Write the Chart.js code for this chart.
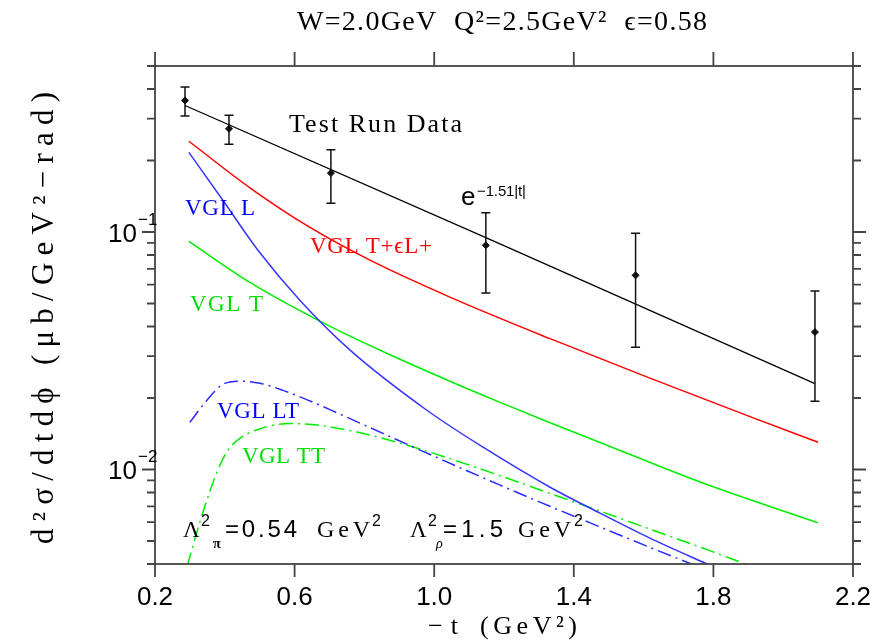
<!DOCTYPE html>
<html><head><meta charset="utf-8">
<script src="https://cdn.jsdelivr.net/npm/chart.js@4"></script>
<style>html,body{margin:0;padding:0;background:#fff}canvas{display:block}</style>
</head><body>
<canvas id="c" width="883" height="640"></canvas>
<script>
// ---- data ----
const dataT     = [0.286, 0.412, 0.704, 1.148, 1.577, 2.091];
const dataSigma = [0.358, 0.272, 0.177, 0.0879, 0.0657, 0.0379];
const dataErr   = [0.050, 0.038, 0.045, 0.0325, 0.033, 0.0185];

const fitT     = [0.286, 1.148, 2.091];
const fitSigma = [0.341, 0.0947, 0.0230];

const sumT     = [0.297, 0.472, 0.644, 0.816, 1.045, 1.332, 1.618, 1.905, 2.100];
const sumSigma = [0.2410, 0.1535, 0.1045, 0.0761, 0.0532, 0.03555, 0.02426, 0.01670, 0.01302];

const lT     = [0.297, 0.398, 0.495, 0.615, 0.759, 0.979, 1.140, 1.332, 1.475, 1.618, 1.782, 1.876];
const lSigma = [0.2165, 0.1337, 0.0838, 0.0516, 0.0318, 0.01776, 0.01241, 0.00842, 0.00655, 0.00514, 0.00400, 0.00347];

const tT     = [0.297, 0.472, 0.658, 0.853, 1.045, 1.189, 1.332, 1.475, 1.762, 2.100];
const tSigma = [0.0914, 0.0613, 0.0432, 0.03138, 0.02354, 0.01917, 0.01573, 0.01300, 0.00886, 0.00596];

const ltT     = [0.300, 0.349, 0.395, 0.444, 0.501, 0.567, 0.644, 0.721, 0.853, 0.951, 1.094, 1.189, 1.303, 1.475, 1.618, 1.739, 1.819];
const ltSigma = [0.01581, 0.01959, 0.02286, 0.02355, 0.02306, 0.02154, 0.01943, 0.01734, 0.01419, 0.01223, 0.00988, 0.00859, 0.00729, 0.00573, 0.00470, 0.00399, 0.00358];

const ttT     = [0.292, 0.338, 0.378, 0.406, 0.444, 0.501, 0.587, 0.681, 0.779, 0.911, 1.045, 1.189, 1.332, 1.475, 1.618, 1.762, 1.882, 1.962];
const ttSigma = [0.00392, 0.00665, 0.00979, 0.01189, 0.01355, 0.01485, 0.01561, 0.01528, 0.01437, 0.01280, 0.01111, 0.00941, 0.00793, 0.00668, 0.00561, 0.00471, 0.00405, 0.00366];

const xTicks      = [0.2, 0.6, 1.0, 1.4, 1.8, 2.2];
const xTickLabels = ['0.2', '0.6', '1.0', '1.4', '1.8', '2.2'];
const yMajorTicks = [0.01, 0.1];
const yMajorExp   = ['\u22122', '\u22121'];
const yMinorTicks = [0.004, 0.005, 0.006, 0.007, 0.008, 0.009,
                     0.02, 0.03, 0.04, 0.05, 0.06, 0.07, 0.08, 0.09,
                     0.2, 0.3, 0.4, 0.5];

const toXY = (xs, ys) => xs.map((v, i) => ({x: v, y: ys[i]}));

// ---- text helpers ----
const SERIF = '"Liberation Serif", "DejaVu Serif", serif';
const SANS  = '"Liberation Sans", Arial, sans-serif';
function fitText(ctx, str, x, y, w, font, color, align) {
  ctx.font = font; ctx.fillStyle = color; ctx.textAlign = 'left';
  ctx.letterSpacing = '0px';
  const m = ctx.measureText(str).width;
  const n = [...str].length;
  let sp = (w && n > 1) ? (w - m) / (n - 1) : 0;
  if (!w) w = m;
  ctx.letterSpacing = sp + 'px';
  let left = x;
  if (align === 'center') left = x - w / 2;
  else if (align === 'right') left = x - w;
  ctx.fillText(str, left, y);
  ctx.letterSpacing = '0px';
}

const frameAndText = {
  id: 'frameAndText',
  afterDatasetsDraw(chart) {
    const {ctx, scales: {x, y}} = chart;
    ctx.save();
    ctx.strokeStyle = '#111'; ctx.lineWidth = 1.5;
    ctx.beginPath();
    dataT.forEach((t, i) => {
      const px = x.getPixelForValue(t);
      const yt = y.getPixelForValue(dataSigma[i] + dataErr[i]);
      const yb = y.getPixelForValue(dataSigma[i] - dataErr[i]);
      ctx.moveTo(px, yt); ctx.lineTo(px, yb);
      ctx.moveTo(px - 4.5, yt); ctx.lineTo(px + 4.5, yt);
      ctx.moveTo(px - 4.5, yb); ctx.lineTo(px + 4.5, yb);
    });
    ctx.stroke();
    ctx.restore();
  },
  afterDraw(chart) {
    const {ctx, chartArea: a, scales: {x, y}} = chart;
    ctx.save();
    // frame and ticks
    ctx.strokeStyle = '#444'; ctx.lineWidth = 1.8;
    ctx.strokeRect(a.left, a.top, a.right - a.left, a.bottom - a.top);
    ctx.beginPath();
    xTicks.forEach(v => {
      const p = x.getPixelForValue(v);
      ctx.moveTo(p, a.bottom); ctx.lineTo(p, a.bottom + 13);
      ctx.moveTo(p, a.top); ctx.lineTo(p, a.top - 14);
    });
    yMajorTicks.forEach(v => {
      const p = y.getPixelForValue(v);
      ctx.moveTo(a.left, p); ctx.lineTo(a.left - 13, p);
      ctx.moveTo(a.right, p); ctx.lineTo(a.right + 13, p);
    });
    yMinorTicks.forEach(v => {
      const p = y.getPixelForValue(v);
      ctx.moveTo(a.left, p); ctx.lineTo(a.left - 8, p);
      ctx.moveTo(a.right, p); ctx.lineTo(a.right + 8, p);
    });
    ctx.stroke();

    // tick labels
    ctx.fillStyle = '#000';
    ctx.font = '26px ' + SANS; ctx.textAlign = 'center'; ctx.textBaseline = 'alphabetic';
    xTicks.forEach((v, i) => ctx.fillText(xTickLabels[i], x.getPixelForValue(v), 605));
    yMajorTicks.forEach((v, i) => {
      const p = y.getPixelForValue(v);
      ctx.font = '26px ' + SANS; ctx.textAlign = 'right';
      ctx.fillText('10', 137, p + 10);
      ctx.font = '17px ' + SANS; ctx.textAlign = 'left';
      ctx.fillText(yMajorExp[i], 138, p - 7);
    });

    // titles
    fitText(ctx, 'W=2.0GeV  Q\u00b2=2.5GeV\u00b2  \u03f5=0.58', 502, 30, 410, '28px ' + SERIF, '#000', 'center');
    fitText(ctx, '\u2212t', 428, 634, 30, '26px ' + SERIF, '#000');
    fitText(ctx, '(GeV\u00b2)', 480, 634, 97, '26px ' + SERIF, '#000');
    ctx.save();
    ctx.translate(53, 318); ctx.rotate(-Math.PI / 2);
    fitText(ctx, 'd\u00b2\u03c3/dtd\u03d5 (\u03bcb/GeV\u00b2\u2212rad)', 0, 0, 452, '31px ' + SERIF, '#000', 'center');
    ctx.restore();

    // annotations
    fitText(ctx, 'Test Run Data', 289, 132, 173, '26px ' + SERIF, '#000');
    fitText(ctx, 'e', 461, 205, 0, '26px ' + SANS, '#000');
    fitText(ctx, '\u22121.51|t|', 477, 196, 49, '15px ' + SANS, '#000');
    fitText(ctx, 'VGL L', 185, 215, 70, '23px ' + SERIF, '#0000ff');
    fitText(ctx, 'VGL T+\u03f5L+', 310, 253, 122, '23px ' + SERIF, '#ff0000');
    fitText(ctx, 'VGL T', 190, 311, 73, '23px ' + SERIF, '#00dd00');
    fitText(ctx, 'VGL LT', 217, 418, 82, '23px ' + SERIF, '#0000ff');
    fitText(ctx, 'VGL TT', 242, 463, 83, '23px ' + SERIF, '#00dd00');

    // Lambda labels
    fitText(ctx, '\u039b', 183, 537, 0, '23px ' + SERIF, '#000');
    fitText(ctx, '2', 201, 526, 0, '16px ' + SANS, '#000');
    fitText(ctx, '\u03c0', 213, 548, 0, 'bold 14px ' + SERIF, '#000');
    fitText(ctx, '=0.54', 225, 537, 72, '24px ' + SANS, '#000');
    fitText(ctx, 'GeV', 317, 537, 53, '24px ' + SERIF, '#000');
    fitText(ctx, '2', 372, 526, 0, '16px ' + SANS, '#000');
    fitText(ctx, '\u039b', 410, 537, 0, '23px ' + SERIF, '#000');
    fitText(ctx, '2', 428, 526, 0, '16px ' + SANS, '#000');
    fitText(ctx, '\u03c1', 436, 548, 0, 'italic 14px ' + SERIF, '#000');
    fitText(ctx, '=1.5', 443, 537, 60, '24px ' + SANS, '#000');
    fitText(ctx, 'GeV', 518, 537, 53, '24px ' + SERIF, '#000');
    fitText(ctx, '2', 574, 526, 0, '16px ' + SANS, '#000');
    ctx.restore();
  }
};

const lineDS = (label, xs, ys, color, dash) => ({
  label, data: toXY(xs, ys), borderColor: color, borderWidth: 1.5,
  pointRadius: 0, fill: false, cubicInterpolationMode: 'monotone',
  borderDash: dash || []
});

new Chart(document.getElementById('c'), {
  type: 'line',
  data: {
    datasets: [
      lineDS('VGL T+\u03f5L+', sumT, sumSigma, '#ff0000'),
      lineDS('VGL L', lT, lSigma, '#3535ff'),
      lineDS('VGL T', tT, tSigma, '#00ee00'),
      lineDS('VGL LT', ltT, ltSigma, '#2a2aff', [14, 5, 2, 5]),
      lineDS('VGL TT', ttT, ttSigma, '#00ee00', [14, 5, 2, 5]),
      {label: 'fit', data: toXY(fitT, fitSigma), borderColor: '#000', borderWidth: 1.3,
       pointRadius: 0, tension: 0, fill: false},
      {label: 'Test Run Data', data: toXY(dataT, dataSigma), showLine: false,
       pointStyle: 'rectRot', pointRadius: 3.5, backgroundColor: '#111', borderColor: '#111'}
    ]
  },
  options: {
    responsive: false, animation: false, devicePixelRatio: 1,
    layout: {padding: {left: 155, top: 66, right: 30, bottom: 76}},
    plugins: {legend: {display: false}, tooltip: {enabled: false}, title: {display: false}},
    scales: {
      x: {type: 'linear', min: 0.2, max: 2.2, display: false},
      y: {type: 'logarithmic', min: 0.004, max: 0.5, display: false}
    }
  },
  plugins: [frameAndText]
});
</script>
</body></html>
